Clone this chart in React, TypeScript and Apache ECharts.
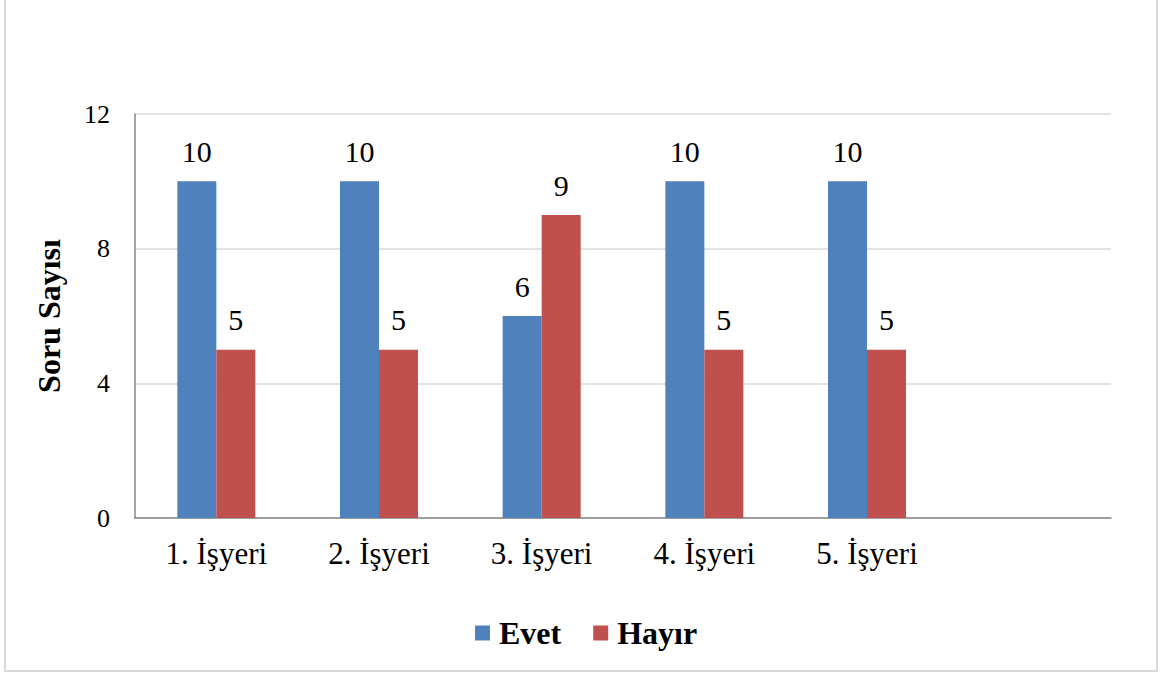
import React, { useEffect, useRef } from "react";
import * as echarts from "echarts";

const categories = ["1. İşyeri", "2. İşyeri", "3. İşyeri", "4. İşyeri", "5. İşyeri", ""];
const evetValues: (number | null)[] = [10, 10, 6, 10, 10, null];
const hayirValues: (number | null)[] = [5, 5, 9, 5, 5, null];
const seriesNames = ["Evet", "Hayır"];
const yAxisTitle = "Soru Sayısı";

const FONT = "Liberation Serif";

export default function App() {
  const ref = useRef<HTMLDivElement>(null);
  useEffect(() => {
    document.body.style.margin = "0";
    if (!ref.current) return;
    const chart = echarts.init(ref.current, undefined, { renderer: "svg" });
    const label = {
      show: true,
      position: "top" as const,
      distance: 15,
      color: "#000",
      fontFamily: FONT,
      fontSize: 30,
    };
    chart.setOption({
      animation: false,
      backgroundColor: "#fff",
      grid: { left: 135, right: 50, top: 114, bottom: 155 },
      graphic: [
        {
          type: "rect",
          shape: { x: 5, y: -2, width: 1152, height: 673 },
          style: { fill: "none", stroke: "#D9D9D9", lineWidth: 2 },
          silent: true,
        },
      ],
      legend: {
        data: seriesNames,
        left: 470,
        top: 612,
        icon: "rect",
        itemWidth: 15,
        itemHeight: 15,
        itemGap: 32,
        textStyle: {
          fontFamily: FONT,
          fontSize: 32,
          fontWeight: "bold",
          color: "#000",
          padding: [0, 0, 0, 4],
        },
      },
      xAxis: {
        type: "category",
        data: categories,
        axisLine: { show: true, lineStyle: { color: "#868686", width: 1.5 } },
        axisTick: { show: false },
        axisLabel: {
          color: "#000",
          fontFamily: FONT,
          fontSize: 31,
          margin: 20,
          interval: 0,
        },
      },
      yAxis: {
        type: "value",
        min: 0,
        max: 12,
        interval: 4,
        name: yAxisTitle,
        nameLocation: "middle",
        nameGap: 70,
        nameRotate: 90,
        nameTextStyle: {
          fontFamily: FONT,
          fontSize: 32,
          fontWeight: "bold",
          color: "#000",
        },
        axisLine: { show: true, lineStyle: { color: "#868686", width: 1.5 } },
        axisTick: { show: false },
        axisLabel: {
          color: "#000",
          fontFamily: FONT,
          fontSize: 26,
          margin: 25,
        },
        splitLine: { show: true, lineStyle: { color: "#D9D9D9", width: 1.5 } },
      },
      series: [
        {
          name: seriesNames[0],
          type: "bar",
          data: evetValues,
          barWidth: 39,
          barGap: "0%",
          itemStyle: { color: "#4F81BD" },
          label,
        },
        {
          name: seriesNames[1],
          type: "bar",
          data: hayirValues,
          barWidth: 39,
          barGap: "0%",
          itemStyle: { color: "#C0504D" },
          label,
        },
      ],
    });
    return () => chart.dispose();
  }, []);
  return <div ref={ref} style={{ width: 1161, height: 673 }} />;
}
